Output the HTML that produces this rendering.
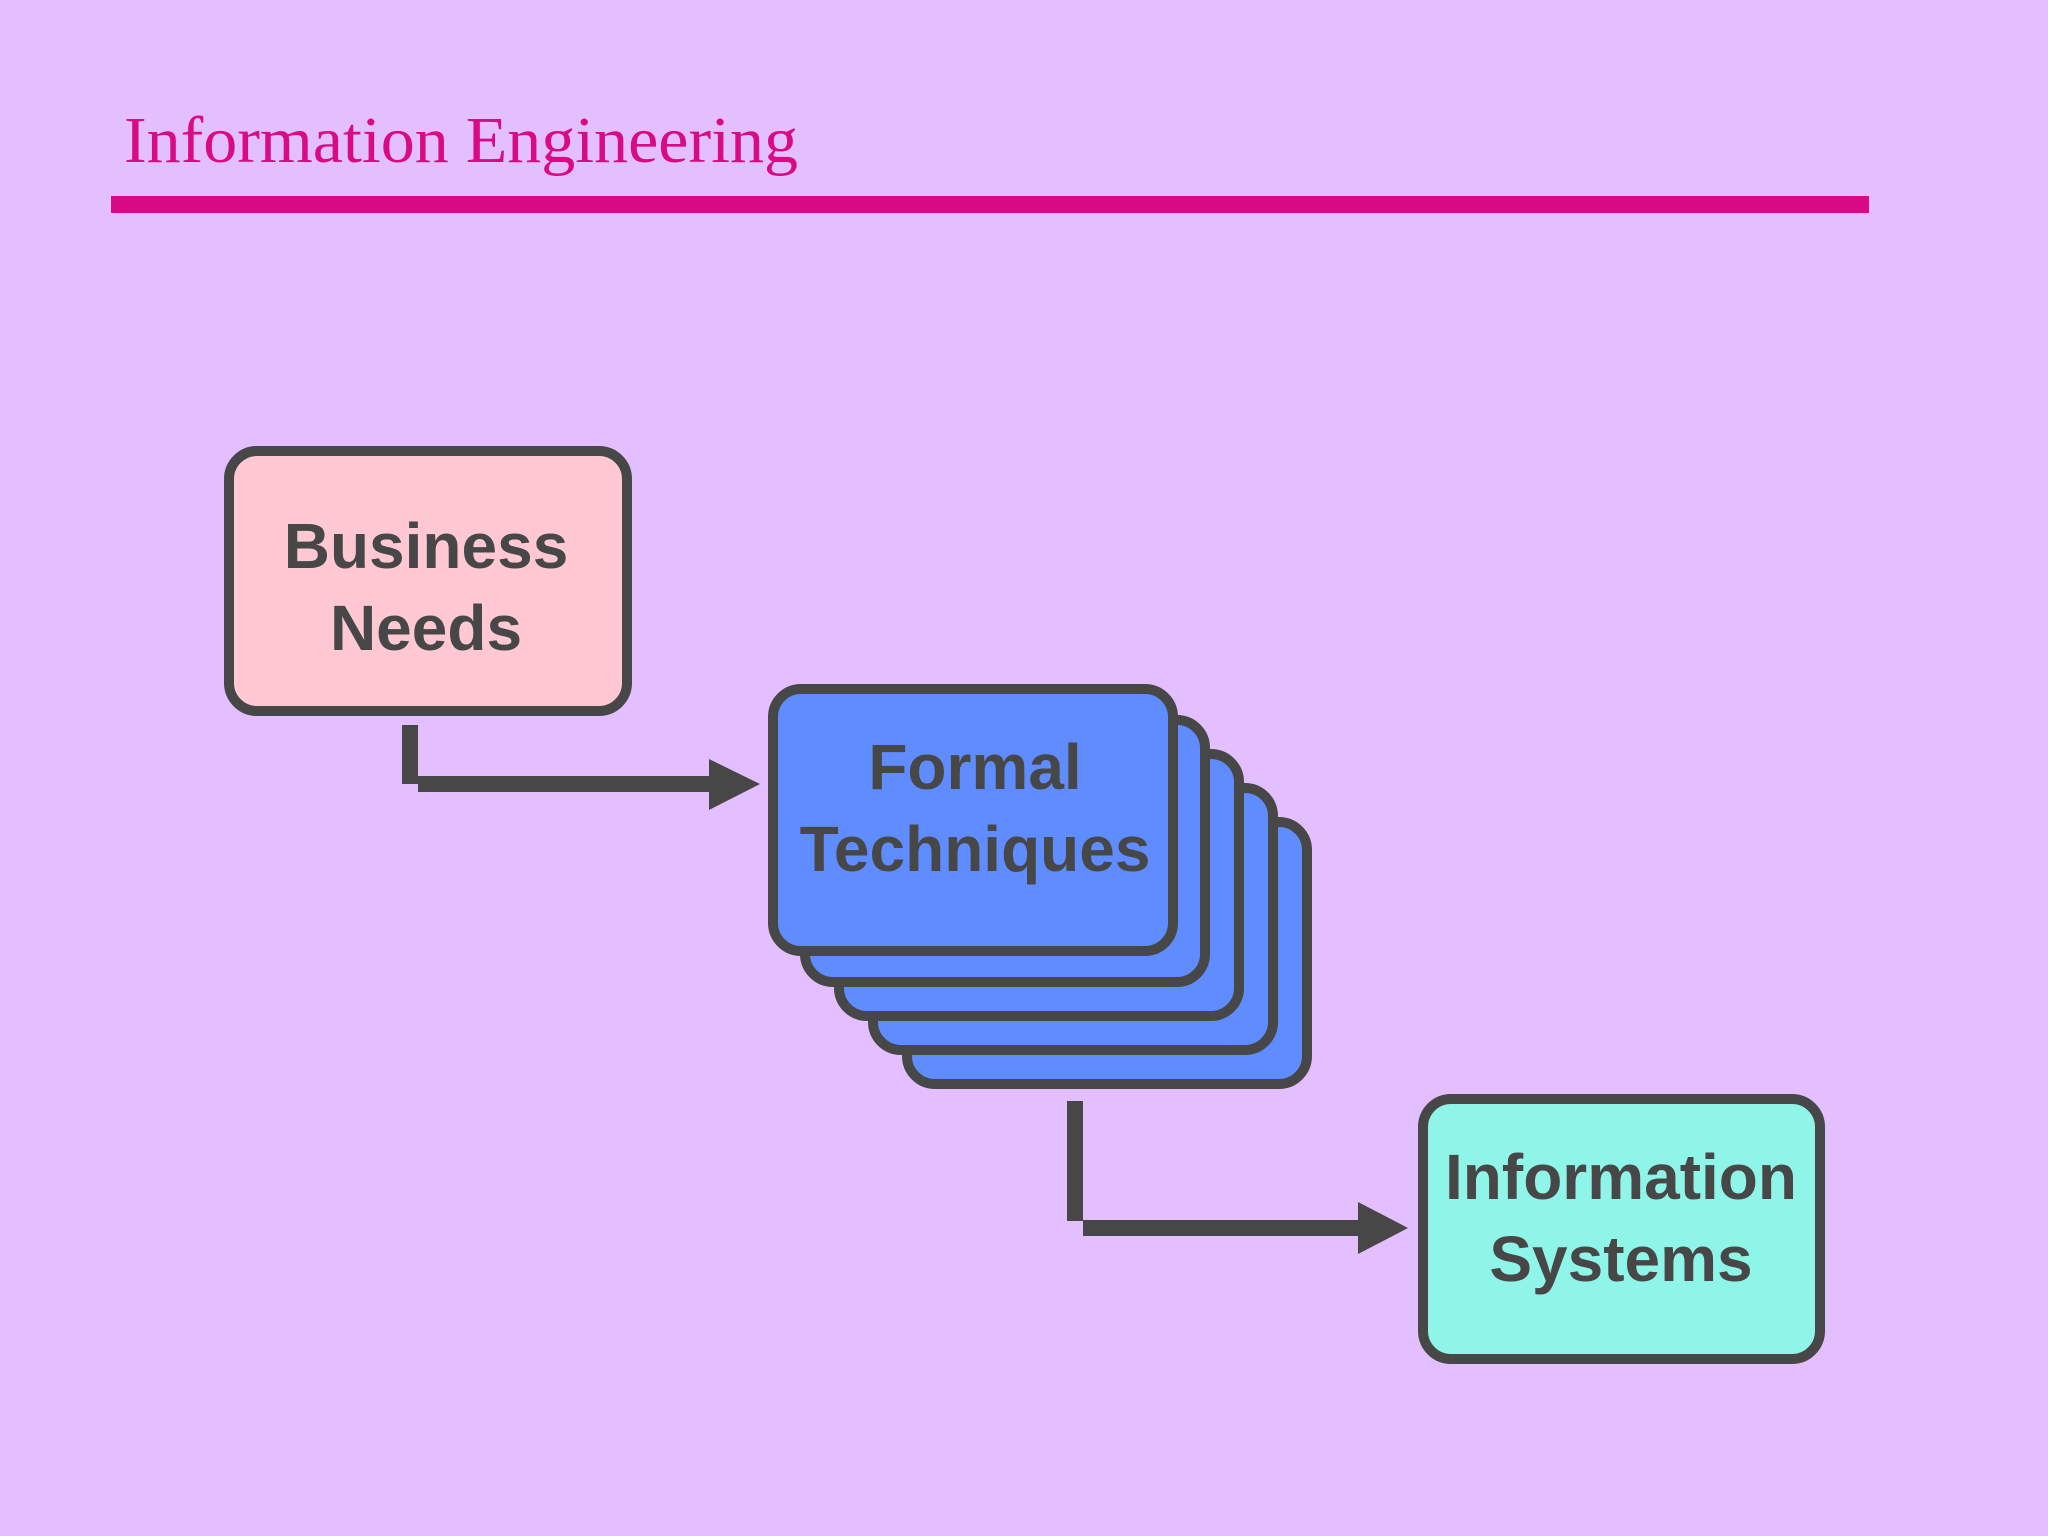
<!DOCTYPE html>
<html><head><meta charset="utf-8"><style>
html,body{margin:0;padding:0;background:#e3bfff;}
svg{display:block}
</style></head><body>
<svg width="2048" height="1536" viewBox="0 0 2048 1536" xmlns="http://www.w3.org/2000/svg">
<rect width="2048" height="1536" fill="#e3bfff"/>
<text x="124" y="162" font-family="Liberation Serif, serif" font-size="66" fill="#d80a85" textLength="674" lengthAdjust="spacingAndGlyphs">Information Engineering</text>
<rect x="111" y="196" width="1758" height="17" fill="#d80a85"/>

<g stroke="#474747" stroke-width="10">
<rect x="229" y="451" width="398" height="260" rx="28" fill="#ffc8d2"/>
<rect x="907" y="822" width="400" height="262" rx="28" fill="#5f8cff"/>
<rect x="873" y="788" width="400" height="262" rx="28" fill="#5f8cff"/>
<rect x="839" y="754" width="400" height="262" rx="28" fill="#5f8cff"/>
<rect x="805" y="720" width="400" height="262" rx="28" fill="#5f8cff"/>
<rect x="773" y="689" width="400" height="262" rx="28" fill="#5f8cff"/>
<rect x="1423" y="1099" width="397" height="260" rx="28" fill="#8ef5e8"/>
</g>

<g fill="#474747">
<rect x="402" y="725" width="16" height="59"/>
<rect x="418" y="776" width="293" height="16"/>
<polygon points="709,759 760,784 709,810"/>
<rect x="1067" y="1101" width="16" height="120"/>
<rect x="1083" y="1220" width="277" height="16"/>
<polygon points="1358,1202 1408,1228 1358,1254"/>
</g>

<g font-family="Liberation Sans, sans-serif" font-weight="bold" font-size="64" fill="#474747" text-anchor="middle">
<text x="426" y="568">Business</text>
<text x="426" y="650">Needs</text>
<text x="975" y="789">Formal</text>
<text x="975" y="871">Techniques</text>
<text x="1621" y="1199">Information</text>
<text x="1621" y="1281">Systems</text>
</g>
</svg>
</body></html>
